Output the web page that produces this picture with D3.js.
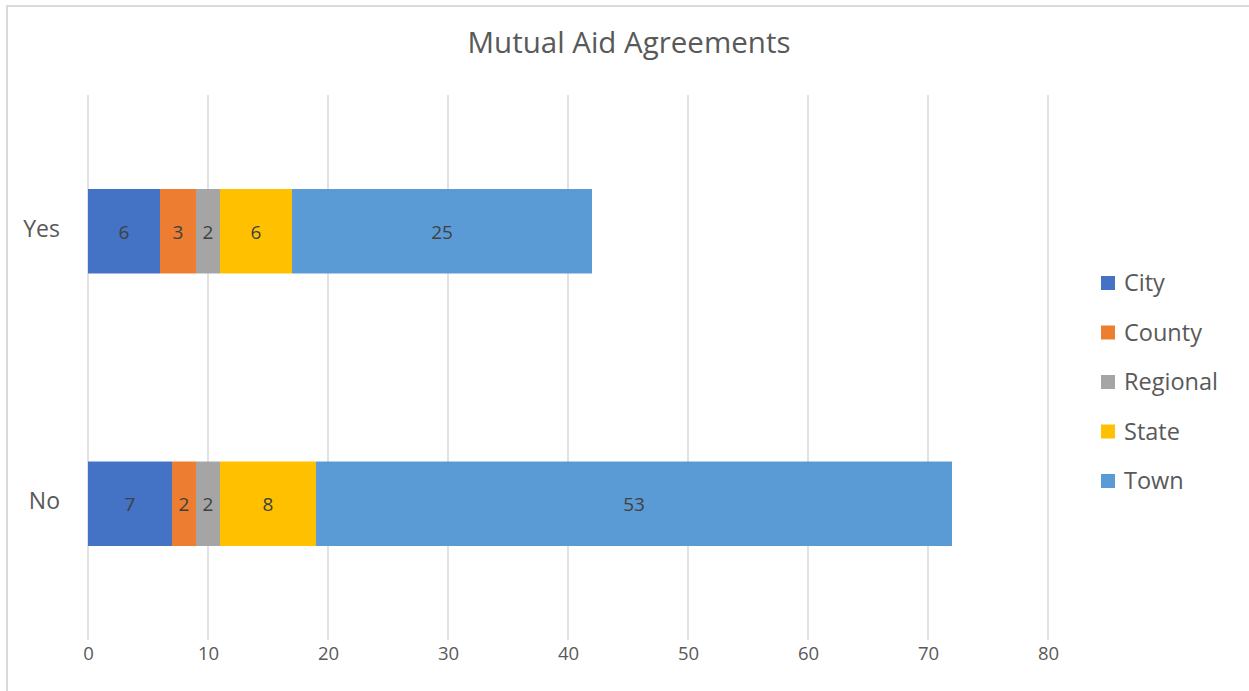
<!DOCTYPE html>
<html>
<head>
<meta charset="utf-8">
<script src="https://cdn.jsdelivr.net/npm/d3@7"></script>
<style>
  html, body { margin: 0; padding: 0; background: #fff; }
  svg { display: block; }
  text { font-family: "Open Sans", "Noto Sans", sans-serif; }
</style>
</head>
<body>
<svg id="chart" width="1249" height="691"></svg>
<script>
// Mutual aid agreements by type, split by answer
const categories = ["Yes", "No"];
const seriesNames = ["City", "County", "Regional", "State", "Town"];
const city     = [6, 7];
const county   = [3, 2];
const regional = [2, 2];
const state    = [6, 8];
const town     = [25, 53];
const xTicks   = [0, 10, 20, 30, 40, 50, 60, 70, 80];
const colors   = ["#4472C4", "#ED7D31", "#A5A5A5", "#FFC000", "#5B9BD5"];

const seriesValues = [city, county, regional, state, town];
const rows = categories.map((c, i) => {
  const r = { category: c };
  seriesNames.forEach((s, k) => { r[s] = seriesValues[k][i]; });
  return r;
});

const svg = d3.select("#chart");

// chart frame
svg.append("rect")
  .attr("x", 7).attr("y", 6)
  .attr("width", 1400).attr("height", 800)
  .attr("fill", "none").attr("stroke", "#d9d9d9").attr("stroke-width", 2);

const plot = { left: 88, right: 1048, top: 95, bottom: 640 };

const x = d3.scaleLinear().domain([0, 80]).range([plot.left, plot.right]);
const y = d3.scaleBand().domain(categories).range([plot.top, plot.bottom])
  .paddingInner(0.69).paddingOuter(0.345);

// gridlines
svg.append("g").selectAll("line").data(xTicks).join("line")
  .attr("x1", d => x(d)).attr("x2", d => x(d))
  .attr("y1", plot.top).attr("y2", plot.bottom)
  .attr("stroke", "#d9d9d9").attr("stroke-width", 1.5);

// x axis labels
const xAxis = d3.axisBottom(x).tickValues(xTicks).tickSize(0).tickPadding(0);
const gx = svg.append("g").attr("transform", `translate(0, ${plot.bottom + 2})`).call(xAxis);
gx.select(".domain").remove();
gx.selectAll("text")
  .attr("dy", null).attr("y", 18)
  .attr("font-size", 18.5).attr("fill", "#595959")
  .style("font-family", "'Open Sans', 'Noto Sans', sans-serif");

// category labels
const yAxis = d3.axisLeft(y).tickSize(0).tickPadding(0);
const gy = svg.append("g").attr("transform", `translate(60, -2)`).call(yAxis);
gy.select(".domain").remove();
gy.selectAll("text")
  .attr("font-size", 23).attr("fill", "#595959")
  .style("font-family", "'Open Sans', 'Noto Sans', sans-serif");

// stacked bars
const stacked = d3.stack().keys(seriesNames)(rows);
const layers = svg.append("g").selectAll("g").data(stacked).join("g")
  .attr("fill", (d, i) => colors[i]);

layers.selectAll("rect").data(d => d).join("rect")
  .attr("x", d => x(d[0]))
  .attr("y", d => y(d.data.category))
  .attr("width", d => x(d[1]) - x(d[0]))
  .attr("height", y.bandwidth());

// value labels
layers.selectAll("text").data(d => d).join("text")
  .attr("x", d => (x(d[0]) + x(d[1])) / 2)
  .attr("y", d => y(d.data.category) + y.bandwidth() / 2 + 1)
  .attr("dy", "0.35em")
  .attr("text-anchor", "middle")
  .attr("font-size", 19)
  .attr("fill", "#404040")
  .text(d => d[1] - d[0]);

// title
svg.append("text")
  .attr("x", 629).attr("y", 53)
  .attr("text-anchor", "middle")
  .attr("font-size", 29.5)
  .attr("fill", "#595959")
  .text("Mutual Aid Agreements");

// legend
const legend = svg.append("g").selectAll("g").data(seriesNames).join("g")
  .attr("transform", (d, i) => `translate(1101, ${283 + i * 49.5})`);
legend.append("rect")
  .attr("x", 0).attr("y", -7).attr("width", 14).attr("height", 14)
  .attr("fill", (d, i) => colors[i]);
legend.append("text")
  .attr("x", 23).attr("y", 0).attr("dy", "0.35em")
  .attr("font-size", 23.5).attr("fill", "#595959")
  .text(d => d);
</script>
</body>
</html>
